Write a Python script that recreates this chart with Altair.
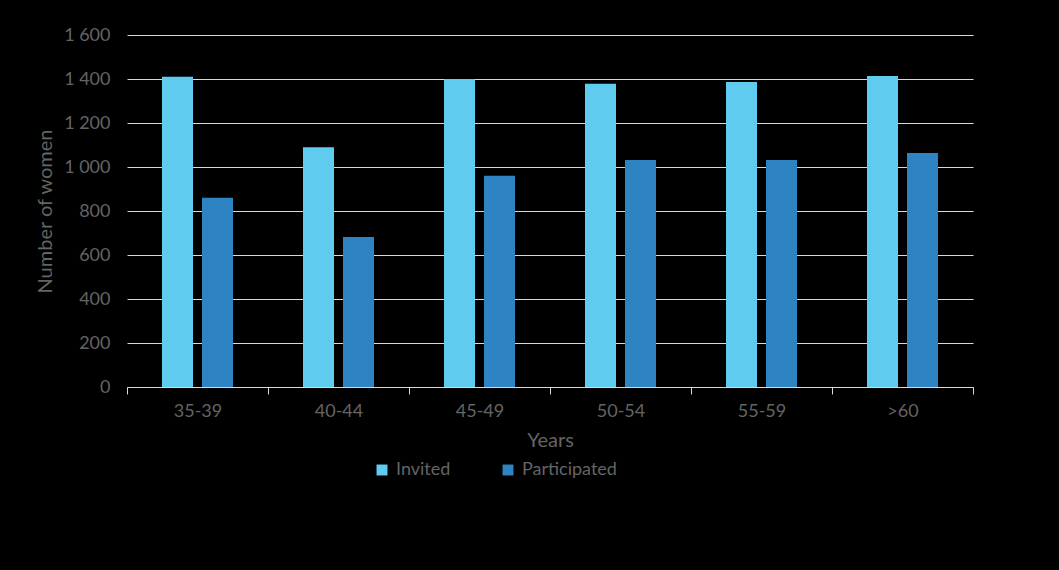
import altair as alt
import pandas as pd

groups = ["35-39", "40-44", "45-49", "50-54", "55-59", ">60"]
invited = [1410, 1090, 1400, 1378, 1386, 1414]
participated = [860, 682, 960, 1032, 1032, 1064]
series = ["Invited", "Participated"]
colors = ["#5ECBEF", "#2E83C3"]

rows = []
for g, a, b in zip(groups, invited, participated):
    rows.append({"group": g, "series": series[0], "value": a})
    rows.append({"group": g, "series": series[1], "value": b})
df = pd.DataFrame(rows)

TXT = "#646464"
FONT = "Lato"

chart = alt.Chart(df).mark_bar().encode(
    x=alt.X("group:N", sort=groups,
            scale=alt.Scale(paddingInner=0, paddingOuter=0),
            axis=alt.Axis(title="Years", labelAngle=0, tickBand="extent",
                          domainColor="#d9d9d9", tickColor="#d9d9d9", tickSize=7,
                          labelColor=TXT, labelFontSize=18, labelFont=FONT, labelPadding=8,
                          titleColor=TXT, titleFontSize=20, titleFont=FONT, titleFontWeight="normal",
                          titlePadding=10, grid=False)),
    xOffset=alt.XOffset("series:N", sort=series,
                        scale=alt.Scale(paddingInner=0.225, paddingOuter=0.875)),
    y=alt.Y("value:Q", scale=alt.Scale(domain=[0, 1600]),
            axis=alt.Axis(title="Number of women", values=list(range(0, 1601, 200)),
                          labelExpr="replace(format(datum.value, ',d'), ',', ' ')",
                          domain=False, ticks=False, gridColor="#d9d9d9", gridWidth=1,
                          labelColor=TXT, labelFontSize=18, labelFont=FONT, labelPadding=17,
                          titleColor=TXT, titleFontSize=20, titleFont=FONT, titleFontWeight="normal",
                          titlePadding=8)),
    color=alt.Color("series:N", sort=series,
                    scale=alt.Scale(domain=series, range=colors),
                    legend=alt.Legend(title=None, orient="none", legendX=246, legendY=426,
                                      direction="horizontal", symbolType="square", symbolSize=120,
                                      symbolStrokeWidth=0, labelColor=TXT, labelFontSize=18,
                                      labelFont=FONT, columnPadding=48, labelOffset=5)),
).properties(
    width=846, height=352,
    background="#000000",
    padding={"left": 127, "top": 35, "right": 86, "bottom": 183},
    autosize=alt.AutoSizeParams(type="none"),
).configure_view(stroke=None)

chart.save("out.html", embed_options={"renderer": "svg", "actions": False})
